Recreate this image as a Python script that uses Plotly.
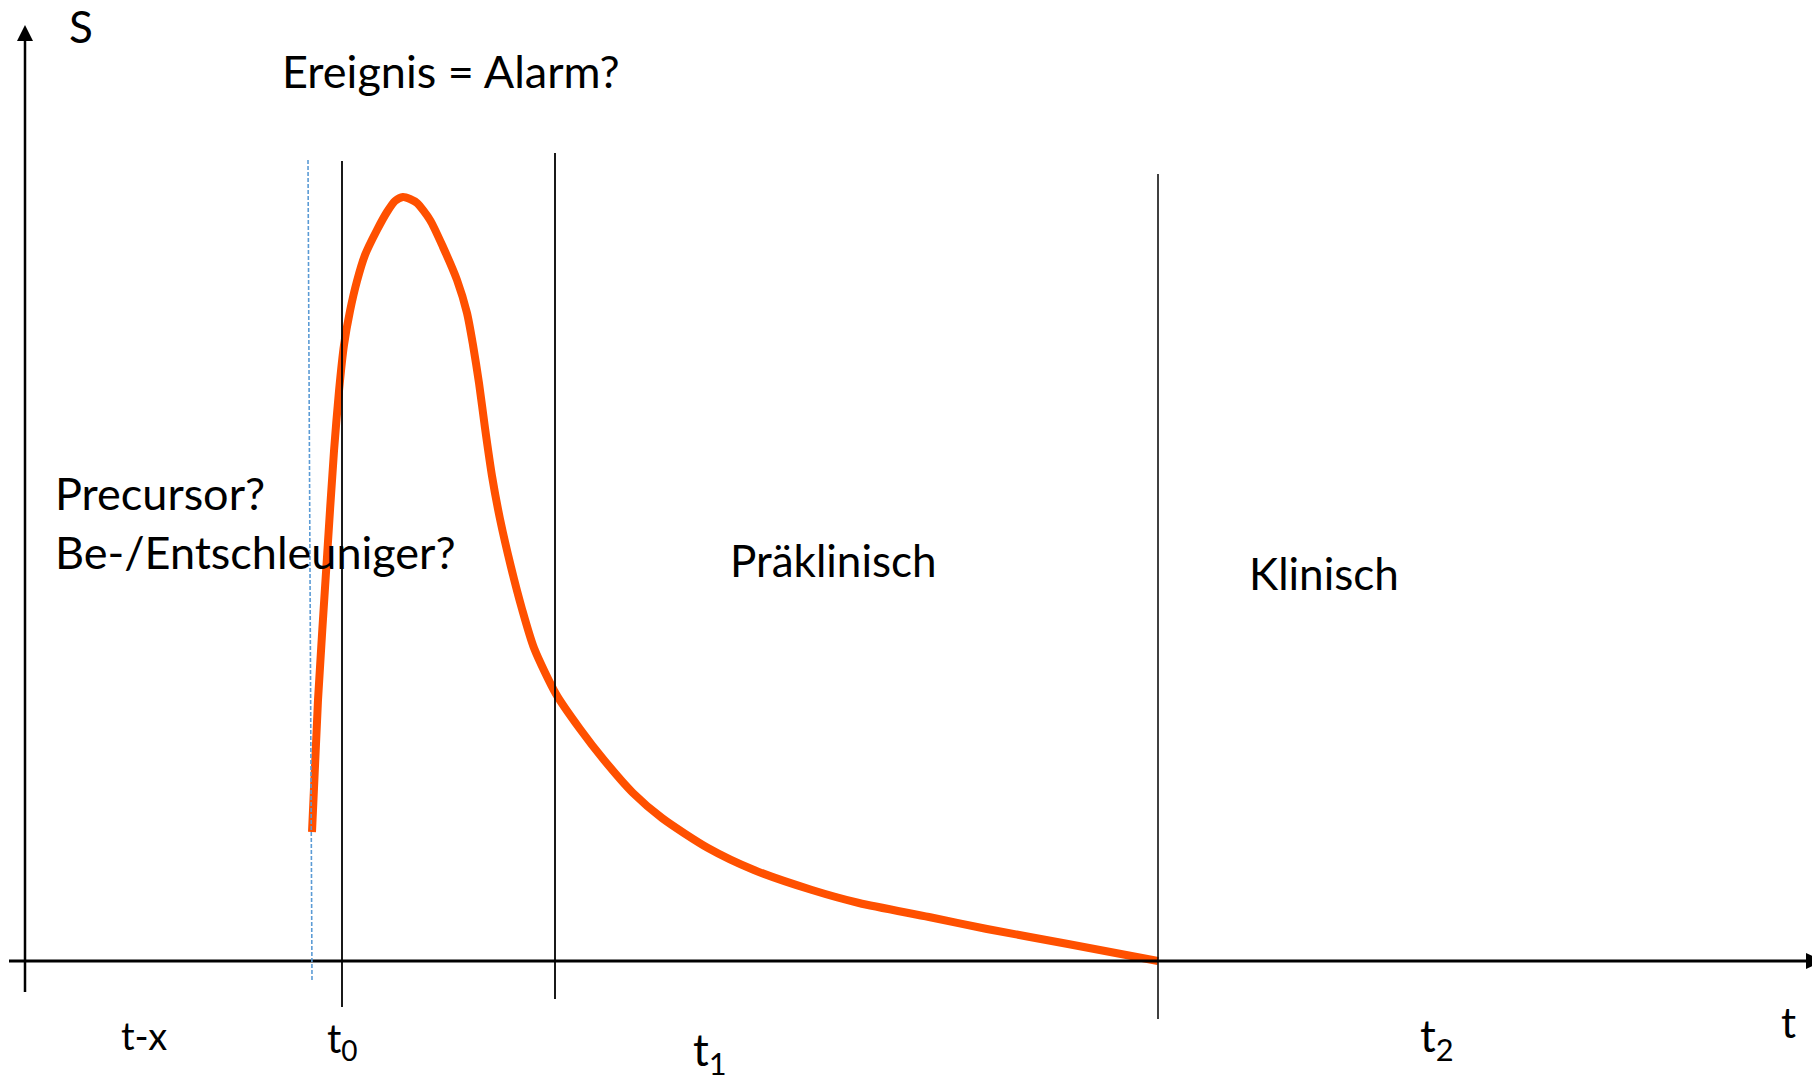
import plotly.graph_objects as go

# ---- data (schematic units: t = time, S = signal strength) ----
curve_t = [312, 318, 327, 334, 339, 344, 350, 357, 365, 377, 387, 395, 403, 410, 417,
           430, 443, 457, 467, 473, 479, 485, 492, 500, 511, 522, 534, 556, 580, 604,
           633, 662, 708, 754, 812, 859, 929, 987, 1068, 1158]
curve_s = [129, 261, 404, 510, 570, 616, 650, 680, 706, 731, 749, 760, 764, 762, 758,
           741, 714, 681, 648, 616, 578, 533, 485, 442, 394, 352, 313, 267, 232, 201,
           168, 143, 113, 91, 71, 58, 44, 32, 17, 0]

event_names = ["t-x", "t0", "t1", "t2"]
event_times = [310, 342, 555, 1158]

tick_labels = ["t-x", "t<sub>0</sub>", "t<sub>1</sub>", "t<sub>2</sub>", "t"]
phase_labels = ["Präklinisch", "Klinisch"]

W, H = 1820, 1077
OFF = 8          # browser body margin
AX_Y = 961       # page pixel row of S = 0


def py(pix):  # convert a page pixel row to S units
    return AX_Y - pix


fig = go.Figure()

fig.add_trace(go.Scatter(
    x=curve_t, y=curve_s, mode="lines",
    line=dict(color="rgb(255,80,0)", width=8, shape="spline", smoothing=0.7),
    hoverinfo="skip", showlegend=False))

shapes = []
# axes
shapes.append(dict(type="line", x0=25, x1=25, y0=py(992), y1=py(38),
                   line=dict(color="black", width=2.5)))
shapes.append(dict(type="path", path=f"M 25 {py(25)} L 17 {py(41)} L 33 {py(41)} Z",
                   fillcolor="black", line=dict(color="black", width=0)))
shapes.append(dict(type="line", x0=9, x1=1808, y0=0, y1=0,
                   line=dict(color="black", width=2.8)))
shapes.append(dict(type="path", path=f"M 1823 0 L 1806 {py(953)} L 1806 {py(969)} Z",
                   fillcolor="black", line=dict(color="black", width=0)))

# event lines
tx, t0, t1, t2 = event_times
shapes.append(dict(type="line", x0=tx - 2, x1=tx + 2, y0=py(160), y1=py(980),
                   line=dict(color="#5B9BD5", width=1.6, dash="4px,2px")))
shapes.append(dict(type="line", x0=t0, x1=t0, y0=py(161), y1=py(1007),
                   line=dict(color="black", width=1.8)))
shapes.append(dict(type="line", x0=t1, x1=t1, y0=py(153), y1=py(999),
                   line=dict(color="black", width=1.8)))
shapes.append(dict(type="line", x0=t2, x1=t2, y0=py(174), y1=py(1019),
                   line=dict(color="black", width=1.5)))

FONT = "Lato, 'Open Sans', sans-serif"


def txt(x, ypix, s, size, xanchor="left"):
    return dict(x=x, y=py(ypix), xref="x", yref="y", text=s, showarrow=False,
                xanchor=xanchor, yanchor="middle",
                font=dict(family=FONT, size=size, color="black"))


annos = [
    txt(81, 26, "S", 44, "center"),
    txt(280, 71, "Ereignis = Alarm?", 45),
    txt(53, 493, "Precursor?", 45),
    txt(53, 552, "Be-/Entschleuniger?", 45),
    txt(833, 560, phase_labels[0], 44, "center"),
    txt(1324, 573, phase_labels[1], 44, "center"),
    txt(144, 1035, tick_labels[0], 38, "center"),
    txt(342, 1040, tick_labels[1], 40, "center"),
    txt(710, 1052, tick_labels[2], 44, "center"),
    txt(1437, 1038, tick_labels[3], 44, "center"),
    txt(1788, 1022, tick_labels[4], 42, "center"),
]

fig.update_layout(
    width=W, height=H,
    margin=dict(l=0, r=0, t=0, b=0),
    paper_bgcolor="white", plot_bgcolor="white",
    xaxis=dict(range=[OFF, W + OFF], visible=False, fixedrange=True),
    yaxis=dict(range=[AX_Y - H - OFF, AX_Y - OFF], visible=False, fixedrange=True),
    shapes=shapes, annotations=annos, showlegend=False,
)

fig.write_html("out.html")
